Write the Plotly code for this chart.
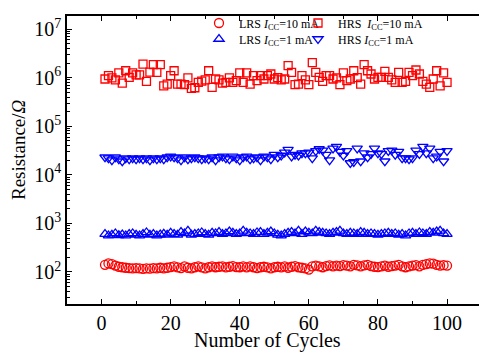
import plotly.graph_objects as go

cycles = list(range(1, 101))

hrs_10ma_M = [0.94, 1.10, 0.99, 0.90, 1.25, 0.77, 1.39, 1.01, 1.25, 1.14,
              1.14, 1.90, 0.84, 1.30, 1.85, 1.29, 1.85, 0.68, 0.74, 1.10,
              1.39, 0.74, 0.74, 0.72, 0.99, 0.60, 0.62, 0.80, 0.85, 0.90,
              1.39, 0.63, 0.94, 0.90, 0.77, 0.80, 0.99, 0.80, 0.87, 1.25,
              0.80, 1.25, 0.74, 1.10, 0.87, 1.10, 0.94, 1.10, 1.19, 0.94,
              1.00, 0.90, 0.94, 1.77, 1.29, 0.72, 0.74, 1.10, 0.90, 0.72,
              2.05, 1.29, 1.01, 0.84, 1.10, 1.10, 0.94, 0.99, 0.72, 1.25,
              0.87, 0.94, 1.39, 1.00, 0.74, 1.85, 1.39, 1.19, 0.94, 1.01,
              1.01, 1.35, 1.01, 0.90, 0.80, 1.29, 0.80, 0.84, 1.29, 1.10,
              1.44, 1.19, 0.84, 0.74, 0.63, 0.94, 1.39, 0.68, 1.25, 0.80]

hrs_1ma_1e4 = [2.3, 2.2, 2.0, 2.3, 2.1, 1.9, 2.2, 2.1, 2.2, 2.1,
               2.2, 2.1, 2.2, 2.0, 2.2, 2.1, 2.2, 2.1, 2.3, 2.4,
               2.3, 2.2, 2.0, 2.3, 2.1, 2.2, 2.3, 2.2, 2.1, 2.2,
               2.1, 2.3, 2.0, 2.3, 2.4, 2.2, 2.1, 2.4, 2.2, 2.0,
               2.3, 2.4, 2.1, 2.2, 2.3, 2.0, 2.4, 2.3, 2.1, 2.6,
               2.3, 2.5, 2.9, 3.3, 2.4, 2.6, 2.5, 2.8, 2.8, 2.9,
               2.2, 3.1, 3.4, 3.2, 2.6, 2.0, 3.5, 3.8, 3.0, 2.5,
               3.1, 1.75, 1.85, 3.5, 1.9, 2.8, 2.3, 2.7, 3.5, 2.8,
               2.7, 1.9, 3.1, 3.2, 2.6, 3.0, 2.2, 2.2, 2.1, 2.2,
               3.2, 2.7, 3.8, 2.8, 3.5, 2.2, 2.4, 3.0, 1.9, 3.1]

lrs_1ma = [600, 560, 580, 620, 570, 590, 560, 600, 620, 580,
           560, 600, 650, 580, 600, 560, 590, 610, 580, 640,
           600, 580, 660, 620, 700, 580, 600, 620, 650, 600,
           580, 640, 620, 660, 600, 620, 680, 640, 600, 620,
           700, 640, 620, 600, 650, 660, 600, 640, 680, 620,
           580, 560, 600, 640, 660, 620, 700, 600, 680, 640,
           620, 700, 660, 640, 620, 600, 640, 660, 700, 620,
           600, 640, 620, 600, 660, 640, 600, 620, 600, 580,
           600, 620, 640, 600, 620, 580, 600, 560, 620, 640,
           600, 650, 620, 600, 660, 640, 680, 700, 620, 600]

lrs_10ma = [140, 150, 145, 135, 128, 125, 122, 120, 118, 120,
            118, 116, 118, 117, 120, 118, 122, 118, 122, 126,
            130, 124, 120, 130, 122, 118, 125, 130, 124, 118,
            125, 130, 125, 128, 130, 124, 128, 132, 126, 125,
            130, 124, 130, 125, 120, 125, 128, 124, 118, 125,
            128, 124, 130, 122, 128, 132, 125, 122, 118, 112,
            130, 135, 130, 125, 132, 136, 130, 135, 132, 138,
            135, 130, 140, 136, 130, 136, 140, 132, 128, 126,
            130, 135, 128, 132, 135, 140, 130, 125, 130, 135,
            138, 130, 140, 145, 150, 148, 140, 135, 138, 135]

x_ticks = [0, 20, 40, 60, 80, 100]
x_minor = [10, 30, 50, 70, 90]
y_tickvals = [1e2, 1e3, 1e4, 1e5, 1e6, 1e7]
y_ticktext = ["10<sup>2</sup>", "10<sup>3</sup>", "10<sup>4</sup>",
              "10<sup>5</sup>", "10<sup>6</sup>", "10<sup>7</sup>"]
y_minor = [m * 10 ** e for e in range(1, 8) for m in range(2, 10)]

names = ["LRS <i>I</i><sub>CC</sub>=10 mA", "HRS  <i>I</i><sub>CC</sub>=10 mA",
         "LRS <i>I</i><sub>CC</sub>=1 mA", "HRS <i>I</i><sub>CC</sub>=1 mA"]
x_title = "Number of Cycles"
y_title = "Resistance/<i>Ω</i>"

RED = "#FF0000"
BLUE = "#0000FF"
FONT = "Liberation Serif"

fig = go.Figure()
series = [
    (lrs_10ma, "circle-open", RED, 9, "legend"),
    ([v * 1e6 for v in hrs_10ma_M], "square-open", RED, 8, "legend2"),
    (lrs_1ma, "triangle-up-open", BLUE, 9, "legend3"),
    ([v * 1e4 for v in hrs_1ma_1e4], "triangle-down-open", BLUE, 9, "legend4"),
]
for (vals, sym, col, sz, lg), nm in zip(series, names):
    fig.add_trace(go.Scatter(
        x=cycles, y=vals, mode="markers", name=nm, legend=lg,
        marker=dict(symbol=sym, size=sz, color=col, line=dict(color=col, width=1.3)),
    ))

W, H = 479, 356
def leg(px, py):
    return dict(x=px / W, y=1 - py / H, xref="container", yref="container",
                xanchor="left", yanchor="middle", bgcolor="rgba(0,0,0,0)",
                font=dict(family=FONT, size=12, color="black"),
                itemwidth=30, borderwidth=0)

fig.update_layout(
    width=W, height=H,
    margin=dict(l=67, r=0, t=16, b=52, autoexpand=False),
    paper_bgcolor="white", plot_bgcolor="white",
    font=dict(family=FONT, size=20, color="black"),
    showlegend=True,
    legend=leg(199, 23), legend2=leg(298, 23),
    legend3=leg(199, 39), legend4=leg(298, 39),
    xaxis=dict(
        range=[-10, 109.25], tickmode="array", tickvals=x_ticks,
        ticks="inside", ticklen=5, tickwidth=1.2, tickcolor="black",
        showline=True, linecolor="black", linewidth=1.6, mirror="allticks",
        showgrid=False, zeroline=False,
        minor=dict(tickmode="array", tickvals=x_minor, ticks="inside", ticklen=3,
                   tickcolor="black", showgrid=False),
        tickfont=dict(size=20),
    ),
    yaxis=dict(
        type="log", range=[1.34, 7.27], tickmode="array",
        tickvals=y_tickvals, ticktext=y_ticktext,
        ticks="inside", ticklen=5, tickwidth=1.2, tickcolor="black",
        showline=True, linecolor="black", linewidth=1.6, mirror=False,
        showgrid=False, zeroline=False,
        minor=dict(tickmode="array", tickvals=y_minor, ticks="inside", ticklen=3,
                   tickcolor="black", showgrid=False),
        tickfont=dict(size=20),
    ),
    annotations=[
        dict(text=x_title, xref="paper", yref="paper", x=(267 - 67) / 412,
             y=-(340 - 304) / 288, xanchor="center", yanchor="middle",
             showarrow=False, font=dict(family=FONT, size=20, color="black")),
        dict(text=y_title, xref="paper", yref="paper", x=-(67 - 18) / 412,
             y=(304 - 150) / 288, xanchor="center", yanchor="middle", textangle=-90,
             showarrow=False, font=dict(family=FONT, size=19, color="black")),
    ],
)

fig.write_html("out.html", config={"displayModeBar": False},
               post_script="document.body.style.margin='0';")
